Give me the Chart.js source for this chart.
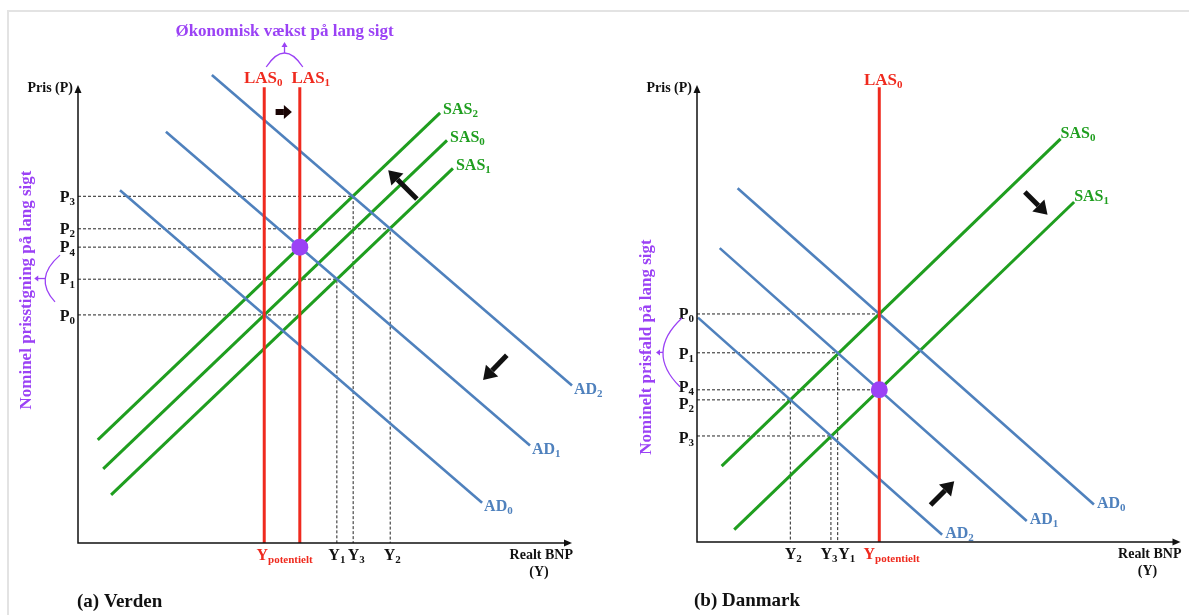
<!DOCTYPE html>
<html>
<head>
<meta charset="utf-8">
<script src="https://cdn.jsdelivr.net/npm/chart.js@4.4.1/dist/chart.umd.min.js"></script>
<style>
  html, body { margin: 0; padding: 0; background: #fff; }
  #wrap { position: relative; width: 1189px; height: 615px; overflow: hidden; }
  #frame { position: absolute; left: 7px; top: 10px; width: 1200px; height: 620px;
           border-top: 2px solid #e3e3e3; border-left: 2px solid #e3e3e3; }
  canvas { position: absolute; top: 0; }
  #verden { left: 0; }
  #danmark { left: 625px; }
</style>
</head>
<body>
<div id="wrap">
  <div id="frame"></div>
  <canvas id="verden" width="625" height="615"></canvas>
  <canvas id="danmark" width="564" height="615"></canvas>
</div>
<script>
// ---- (a) Verden ----
const verdenAD = [[[8.5, 77.0], [81.8, 8.8]], [[17.8, 89.8], [91.5, 21.3]], [[27.1, 102.2], [100, 34.4]]];
const verdenADLabels = ['AD_0', 'AD_1', 'AD_2'];
const verdenSAS = [[[5.1, 16.2], [74.7, 87.9]], [[6.7, 10.5], [75.9, 81.8]], [[4.0, 22.5], [73.3, 93.9]]];
const verdenSASLabels = ['SAS_0', 'SAS_1', 'SAS_2'];
const verdenLAS = [37.7, 44.9];
const verdenLASLabels = ['LAS_0', 'LAS_1'];
const verdenPrices = [49.8, 57.6, 68.6, 75.7, 64.6];
const verdenPriceLabels = ['P_0', 'P_1', 'P_2', 'P_3', 'P_4'];
const verdenGuideTo = [44.9, 52.4, 63.2, 55.7, 44.9];
const verdenGuideDrop = [false, true, true, true, false];
const verdenOutput = [52.4, 63.2, 55.7];
const verdenOutputLabels = ['Y_1', 'Y_2', 'Y_3'];
const verdenDot = [44.9, 64.6];
const verdenShifts = [[[68.6, 75.1], [62.8, 81.4]], [[86.8, 41.0], [82.0, 35.6]]];
const verdenLASShift = [[40.0, 94.1], [43.3, 94.1]];

// ---- (b) Danmark ----
const danmarkAD = [[[8.4, 77.4], [82.1, 8.2]], [[4.7, 64.3], [68.2, 4.6]], [[0.2, 49.1], [50.7, 1.6]]];
const danmarkADLabels = ['AD_0', 'AD_1', 'AD_2'];
const danmarkSAS = [[[5.1, 16.6], [75.2, 88.2]], [[7.7, 2.7], [78.0, 74.4]]];
const danmarkSASLabels = ['SAS_0', 'SAS_1'];
const danmarkLAS = [37.7];
const danmarkLASLabels = ['LAS_0'];
const danmarkPrices = [49.9, 41.4, 31.1, 23.2, 33.3];
const danmarkPriceLabels = ['P_0', 'P_1', 'P_2', 'P_3', 'P_4'];
const danmarkGuideTo = [37.7, 29.1, 19.3, 27.7, 37.7];
const danmarkGuideDrop = [false, true, true, true, false];
const danmarkOutput = [29.1, 19.3, 27.7];
const danmarkOutputLabels = ['Y_1', 'Y_2', 'Y_3'];
const danmarkDot = [37.7, 33.3];
const danmarkShifts = [[[67.8, 76.6], [72.5, 71.6]], [[48.3, 8.1], [53.2, 13.3]]];

const BLUE = '#4f81bd';
const GREEN = '#1f9e1f';
const RED = '#ef2a1e';
const PURPLE = '#9b42f5';
const INK = '#111';
const FONT = '"Liberation Serif", "Times New Roman", serif';

function subLabel(ctx, text, x, y, size, color, align) {
  const [main, sub] = text.split('_');
  const subSize = Math.round(size * 0.66);
  ctx.font = `bold ${size}px ${FONT}`;
  const mw = ctx.measureText(main).width;
  let sw = 0;
  if (sub) {
    ctx.font = `bold ${subSize}px ${FONT}`;
    sw = ctx.measureText(sub).width;
  }
  let left = x;
  if (align === 'center') left = x - (mw + sw) / 2;
  else if (align === 'right') left = x - mw - sw;
  else if (align === 'main') left = x - mw / 2;
  const base = y + size * 0.33;
  ctx.fillStyle = color;
  ctx.textAlign = 'left';
  ctx.textBaseline = 'alphabetic';
  ctx.font = `bold ${size}px ${FONT}`;
  ctx.fillText(main, left, base);
  if (sub) {
    ctx.font = `bold ${subSize}px ${FONT}`;
    ctx.fillText(sub, left + mw, base + size * 0.2);
  }
}

function plainText(ctx, text, x, y, size, color, align) {
  ctx.font = `bold ${size}px ${FONT}`;
  ctx.fillStyle = color;
  ctx.textAlign = align;
  ctx.textBaseline = 'middle';
  ctx.fillText(text, x, y);
}

function fatArrow(ctx, x1, y1, x2, y2, shaft, headLen, headHalf, color) {
  const ang = Math.atan2(y2 - y1, x2 - x1);
  const bx = x2 - Math.cos(ang) * headLen;
  const by = y2 - Math.sin(ang) * headLen;
  ctx.save();
  ctx.strokeStyle = color;
  ctx.fillStyle = color;
  ctx.lineWidth = shaft;
  ctx.lineCap = 'butt';
  ctx.beginPath();
  ctx.moveTo(x1, y1);
  ctx.lineTo(bx, by);
  ctx.stroke();
  ctx.beginPath();
  ctx.moveTo(x2, y2);
  ctx.lineTo(bx + Math.sin(ang) * headHalf, by - Math.cos(ang) * headHalf);
  ctx.lineTo(bx - Math.sin(ang) * headHalf, by + Math.cos(ang) * headHalf);
  ctx.closePath();
  ctx.fill();
  ctx.restore();
}

function makeDecor(spec, lay) {
  return {
    id: 'decor',
    afterDatasetsDraw(chart) {
      const { ctx, scales: { x, y } } = chart;
      const px = v => x.getPixelForValue(v);
      const py = v => y.getPixelForValue(v);
      const ox = px(0), oy = py(0), top = py(100), right = px(100);
      ctx.save();

      // axes with arrow heads
      ctx.strokeStyle = INK;
      ctx.lineWidth = 1.5;
      ctx.beginPath();
      ctx.moveTo(ox, oy + 0.75);
      ctx.lineTo(ox, top + 6);
      ctx.moveTo(ox, oy);
      ctx.lineTo(right - 6, oy);
      ctx.stroke();
      ctx.fillStyle = INK;
      ctx.beginPath();
      ctx.moveTo(ox, top); ctx.lineTo(ox - 3.5, top + 8); ctx.lineTo(ox + 3.5, top + 8);
      ctx.closePath(); ctx.fill();
      ctx.beginPath();
      ctx.moveTo(right, oy); ctx.lineTo(right - 8, oy - 3.5); ctx.lineTo(right - 8, oy + 3.5);
      ctx.closePath(); ctx.fill();

      plainText(ctx, 'Pris (P)', ox - 5, top + 3, 14, INK, 'right');
      plainText(ctx, 'Realt BNP', right + 1, oy + 12, 14, INK, 'right');
      plainText(ctx, '(Y)', right - 33, oy + 29, 14, INK, 'center');
      plainText(ctx, spec.title, ox + lay.titleDx, oy + 59, 19, INK, 'left');

      // curve labels
      spec.ad.forEach((seg, i) => {
        subLabel(ctx, spec.adLabels[i], px(seg[1][0]) + lay.adOff[0], py(seg[1][1]) + lay.adOff[1], 16, BLUE, 'left');
      });
      spec.sas.forEach((seg, i) => {
        subLabel(ctx, spec.sasLabels[i], px(seg[1][0]) + lay.sasOff[0], py(seg[1][1]) + lay.sasOff[1], 16, GREEN, 'left');
      });
      spec.las.forEach((v, i) => {
        subLabel(ctx, spec.lasLabels[i], px(v) + lay.lasOff[i], top - lay.lasDy, 17, RED, 'center');
      });

      // axis labels
      spec.prices.forEach((v, i) => {
        subLabel(ctx, spec.priceLabels[i], ox - 3, py(v) + lay.pOff[i], 16, INK, 'right');
      });
      spec.output.forEach((v, i) => {
        subLabel(ctx, spec.outputLabels[i], px(v) + lay.yOff[i], oy + 12, 16, INK, 'center');
      });
      subLabel(ctx, 'Y_potentielt', px(spec.las[0]) + lay.potDx, oy + 12, 16, RED, 'main');

      // shift arrows
      spec.shifts.forEach(a => {
        fatArrow(ctx, px(a[0][0]), py(a[0][1]), px(a[1][0]), py(a[1][1]), 5, 13, 8.5, INK);
      });
      if (spec.lasShift) {
        const a = spec.lasShift;
        fatArrow(ctx, px(a[0][0]), py(a[0][1]), px(a[1][0]), py(a[1][1]), 6, 8, 7, '#1a0505');
      }

      // purple brace on price axis
      const b = lay.brace;
      const sx = ox + b.sdx, sy = py(spec.prices[b.from]) + b.sdy;
      const ex = ox + b.edx, ey = py(spec.prices[b.to]) + b.edy;
      const cx = ox + b.cdx, cy = (sy + ey) / 2;
      ctx.strokeStyle = PURPLE;
      ctx.fillStyle = PURPLE;
      ctx.lineWidth = 1.3;
      ctx.beginPath();
      ctx.moveTo(sx, sy);
      ctx.quadraticCurveTo(cx, cy, ex, ey);
      ctx.stroke();
      const mx = 0.25 * sx + 0.5 * cx + 0.25 * ex, my = 0.25 * sy + 0.5 * cy + 0.25 * ey;
      ctx.beginPath();
      ctx.moveTo(mx, my); ctx.lineTo(mx - b.arrow, my);
      ctx.stroke();
      ctx.beginPath();
      ctx.moveTo(mx - b.arrow - 3, my); ctx.lineTo(mx - b.arrow + 1, my - 3); ctx.lineTo(mx - b.arrow + 1, my + 3);
      ctx.closePath(); ctx.fill();

      ctx.save();
      ctx.translate(ox + lay.sideDx, lay.sideY);
      ctx.rotate(-Math.PI / 2);
      plainText(ctx, spec.sideText, 0, 0, 17, PURPLE, 'center');
      ctx.restore();

      // growth note above LAS lines
      if (spec.growth) {
        const l0 = px(spec.las[0]) + 2, l1 = px(spec.las[1]) + 3;
        const gy = top - 18, gm = (l0 + l1) / 2;
        ctx.beginPath();
        ctx.moveTo(l0, gy);
        ctx.quadraticCurveTo(gm, top - 46, l1, gy);
        ctx.stroke();
        ctx.beginPath();
        ctx.moveTo(gm, top - 32); ctx.lineTo(gm, top - 39);
        ctx.stroke();
        ctx.beginPath();
        ctx.moveTo(gm, top - 43); ctx.lineTo(gm - 3, top - 38); ctx.lineTo(gm + 3, top - 38);
        ctx.closePath(); ctx.fill();
        plainText(ctx, spec.growth, gm, top - 53, 17, PURPLE, 'center');
      }
      ctx.restore();
    }
  };
}

function lineSet(pts, color, width, order, dash) {
  return {
    data: pts.map(p => ({ x: p[0], y: p[1] })),
    showLine: true,
    borderColor: color,
    borderWidth: width,
    borderDash: dash || [],
    pointRadius: 0,
    tension: 0,
    clip: false,
    order
  };
}

function buildChart(id, spec, lay) {
  const datasets = [];
  datasets.push({
    data: [{ x: spec.dot[0], y: spec.dot[1] }],
    pointRadius: 8.5,
    pointBackgroundColor: PURPLE,
    pointBorderWidth: 0,
    showLine: false,
    clip: false,
    order: 0
  });
  spec.las.forEach(v => datasets.push(lineSet([[v, 0], [v, 99.5]], RED, 3, 1)));
  spec.ad.forEach(seg => datasets.push(lineSet(seg, BLUE, 2.6, 2)));
  spec.sas.forEach(seg => datasets.push(lineSet(seg, GREEN, 3, 3)));
  spec.prices.forEach((p, i) => {
    const pts = [[0, p], [spec.guideTo[i], p]];
    if (spec.guideDrop[i]) pts.push([spec.guideTo[i], 0]);
    datasets.push(lineSet(pts, '#222', 1, 4, [3, 2]));
  });

  return new Chart(document.getElementById(id), {
    type: 'scatter',
    data: { datasets },
    options: {
      responsive: false,
      animation: false,
      devicePixelRatio: 1,
      events: [],
      layout: { padding: lay.padding },
      plugins: { legend: { display: false }, tooltip: { enabled: false } },
      scales: {
        x: { type: 'linear', min: 0, max: 100, display: false },
        y: { type: 'linear', min: 0, max: 100, display: false }
      }
    },
    plugins: [makeDecor(spec, lay)]
  });
}

buildChart('verden', {
  title: '(a) Verden',
  ad: verdenAD, adLabels: verdenADLabels,
  sas: verdenSAS, sasLabels: verdenSASLabels,
  las: verdenLAS, lasLabels: verdenLASLabels,
  prices: verdenPrices, priceLabels: verdenPriceLabels,
  guideTo: verdenGuideTo, guideDrop: verdenGuideDrop,
  output: verdenOutput, outputLabels: verdenOutputLabels,
  dot: verdenDot,
  shifts: verdenShifts, lasShift: verdenLASShift,
  sideText: 'Nominel prisstigning på lang sigt',
  growth: 'Økonomisk vækst på lang sigt'
}, {
  padding: { left: 78, top: 85, right: 53, bottom: 72 },
  titleDx: -1,
  adOff: [2, 3], sasOff: [3, -4],
  lasOff: [-1, 11], lasDy: 8,
  pOff: [1, 0, 0, 0, 0], yOff: [0, 2, 3], potDx: -2,
  brace: { from: 4, to: 0, sdx: -18, sdy: 8, edx: -23, edy: -13, cdx: -45, arrow: 8 },
  sideDx: -51, sideY: 290
});

buildChart('danmark', {
  title: '(b) Danmark',
  ad: danmarkAD, adLabels: danmarkADLabels,
  sas: danmarkSAS, sasLabels: danmarkSASLabels,
  las: danmarkLAS, lasLabels: danmarkLASLabels,
  prices: danmarkPrices, priceLabels: danmarkPriceLabels,
  guideTo: danmarkGuideTo, guideDrop: danmarkGuideDrop,
  output: danmarkOutput, outputLabels: danmarkOutputLabels,
  dot: danmarkDot,
  shifts: danmarkShifts,
  sideText: 'Nominelt prisfald på lang sigt'
}, {
  padding: { left: 72, top: 85, right: 1, bottom: 73 },
  titleDx: -3,
  adOff: [3, -2], sasOff: [0, -6],
  lasOff: [4], lasDy: 6,
  pOff: [0, 1, 4, 2, -3], yOff: [9, 3, -2], potDx: -10,
  brace: { from: 0, to: 4, sdx: -15, sdy: 4, edx: -17, edy: -3, cdx: -52, arrow: 4 },
  sideDx: -50, sideY: 347
});
</script>
</body>
</html>
